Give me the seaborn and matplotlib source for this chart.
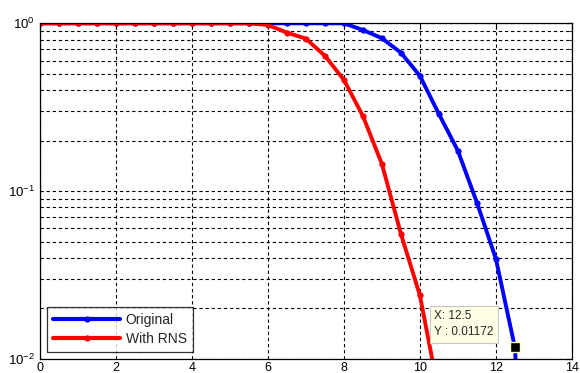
import numpy as np
import pandas as pd
import matplotlib
matplotlib.use("Agg")
import matplotlib.pyplot as plt
from matplotlib.ticker import LogLocator, NullFormatter, MultipleLocator
import seaborn as sns

# ---- data ----
x_orig = [0, 0.5, 1, 1.5, 2, 2.5, 3, 3.5, 4, 4.5, 5, 5.5, 6, 6.5, 7, 7.5, 8,
          8.5, 9, 9.5, 10, 10.5, 11, 11.5, 12, 12.5, 13]
y_orig = [1, 1, 1, 1, 1, 1, 1, 1, 1, 1, 1, 1, 1, 1, 1, 1, 1,
          0.912, 0.815, 0.668, 0.486, 0.288, 0.174, 0.0855, 0.0395, 0.01172, 0.0001]
x_rns = [0, 0.5, 1, 1.5, 2, 2.5, 3, 3.5, 4, 4.5, 5, 5.5, 6, 6.5, 7, 7.5, 8,
         8.5, 9, 9.5, 10, 10.5]
y_rns = [1, 1, 1, 1, 1, 1, 1, 1, 1, 1, 1, 1, 0.977, 0.88, 0.81, 0.64, 0.46,
         0.28, 0.145, 0.0557, 0.0239, 0.0062]
series_names = ["Original", "With RNS"]
tip_x, tip_y = 12.5, 0.01172

df = pd.concat([
    pd.DataFrame({"x": x_orig, "y": y_orig, "series": series_names[0]}),
    pd.DataFrame({"x": x_rns, "y": y_rns, "series": series_names[1]}),
])

sns.set_style("white")
plt.rcParams["font.family"] = ["Liberation Sans", "DejaVu Sans"]

fig = plt.figure(figsize=(5.8, 3.73), dpi=100)
ax = fig.add_axes([0.069, 0.0375, 0.917, 0.9])

sns.lineplot(data=df, x="x", y="y", hue="series",
             palette={"Original": "#0000ff", "With RNS": "#ff0000"},
             marker="o", markersize=4.5, markeredgewidth=0, linewidth=2.8,
             ax=ax, legend=True, sort=False)

ax.set_yscale("log")
ax.set_xlim(0, 14)
ax.set_ylim(0.01, 1)
ax.xaxis.set_major_locator(MultipleLocator(2))
ax.yaxis.set_major_locator(LogLocator(base=10, numticks=5))
ax.yaxis.set_minor_locator(LogLocator(base=10, subs=np.arange(2, 10), numticks=20))
ax.yaxis.set_minor_formatter(NullFormatter())
ax.set_xlabel("")
ax.set_ylabel("")

dash = (0, (3, 2.5))
ax.grid(True, which="major", axis="both", color="black", linestyle=dash, linewidth=0.8)
ax.grid(True, which="minor", axis="y", color="black", linestyle=dash, linewidth=0.8)
ax.set_axisbelow(True)

ax.tick_params(axis="both", which="both", direction="in", top=True, right=True,
               labelsize=9.5, colors="black")
ax.tick_params(axis="x", which="major", pad=2, labelsize=9)
ax.tick_params(axis="both", which="major", length=4)
ax.tick_params(axis="y", which="minor", length=2)
for s in ax.spines.values():
    s.set_color("black")
    s.set_linewidth(0.9)

# data tip
ax.plot([tip_x], [tip_y], marker="s", markersize=7, color="black",
        markeredgecolor="#ffffcc", markeredgewidth=1, zorder=6)
ax.text(10.38, 0.0195, f"X: {tip_x}\nY : {tip_y}", fontsize=8.5, va="top", ha="left",
        linespacing=1.4, zorder=7,
        bbox=dict(boxstyle="square,pad=0.4", facecolor="#ffffe6", edgecolor="#c8c8c8",
                  linewidth=0.8))

leg = ax.legend(loc="lower left", bbox_to_anchor=(0.008, 0.012), frameon=True,
                fancybox=False, edgecolor="black", fontsize=10, handlelength=4.8,
                borderpad=0.45, labelspacing=0.35, handletextpad=0.4,
                borderaxespad=0.2, numpoints=1)
leg.get_frame().set_linewidth(0.9)
for h in leg.get_lines():
    h.set_linewidth(3)

fig.savefig("out.png", dpi=100)
